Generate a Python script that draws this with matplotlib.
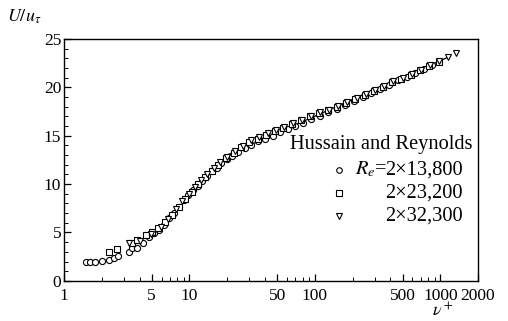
import matplotlib
matplotlib.use('Agg')
import matplotlib.pyplot as plt
from matplotlib.ticker import FixedLocator, NullFormatter

plt.rcParams['font.family'] = ['Liberation Serif', 'DejaVu Serif']
plt.rcParams['mathtext.fontset'] = 'stix'

# Re = 2 x 13,800 (circles)
circ_x = [1.5, 1.62, 1.76, 2.02, 2.28, 2.5, 2.7, 3.3, 3.5, 3.8, 4.3, 4.75, 5.2, 5.7,
          6.3, 6.9, 7.6, 8.3, 9.0, 9.8, 10.7, 11.6, 12.6, 13.7, 15.0, 16.5, 18.0, 20.0,
          22.0, 24.5, 27.5, 31, 35, 40, 46, 53, 61, 70, 81, 94, 110, 128, 150, 175,
          205, 240, 280, 330, 390, 460, 540, 630, 740, 860]
circ_y = [1.9, 1.9, 1.92, 2.05, 2.2, 2.4, 2.6, 3.0, 3.4, 3.4, 3.95, 4.55, 4.9, 5.3,
          5.8, 6.5, 7.0, 7.6, 8.4, 8.9, 9.4, 9.8, 10.3, 10.8, 11.3, 11.7, 12.2, 12.6,
          12.9, 13.3, 13.7, 14.0, 14.4, 14.7, 15.0, 15.4, 15.7, 16.0, 16.3, 16.7, 17.0,
          17.4, 17.8, 18.2, 18.6, 19.0, 19.4, 19.8, 20.2, 20.7, 21.1, 21.5, 21.9, 22.3]

# Re = 2 x 23,200 (squares)
sq_x = [2.3, 2.65, 3.5, 3.8, 4.5, 5.0, 5.6, 6.4, 7.3, 8.2, 9.3, 10.4, 11.8, 13.3, 15,
        17, 19.5, 22.5, 26, 30, 35, 41, 48, 56, 66, 78, 92, 108, 127, 150, 178, 210,
        250, 295, 350, 415, 490, 580, 690, 820, 970]
sq_y = [3.0, 3.3, 3.95, 4.2, 4.75, 5.0, 5.5, 6.1, 6.8, 7.6, 8.5, 9.2, 10.0, 10.7, 11.4,
        12.0, 12.7, 13.2, 13.8, 14.3, 14.7, 15.1, 15.5, 15.8, 16.2, 16.6, 17.0, 17.3,
        17.6, 18.0, 18.4, 18.8, 19.2, 19.6, 20.0, 20.5, 20.9, 21.3, 21.8, 22.2, 22.6]

# Re = 2 x 32,300 (triangles)
tri_x = [3.3, 4.0, 4.9, 5.9, 6.8, 7.8, 8.8, 9.9, 11.0, 12.3, 13.8, 15.6, 17.6, 20, 23,
         26.5, 31, 36, 42, 49, 57, 67, 79, 93, 110, 130, 154, 182, 215, 255, 300, 355,
         420, 500, 590, 700, 830, 980, 1150, 1340]
tri_y = [3.9, 4.1, 4.8, 5.6, 6.4, 7.4, 8.2, 9.0, 9.7, 10.4, 11.0, 11.7, 12.3, 12.8,
         13.4, 13.9, 14.5, 14.9, 15.3, 15.6, 15.9, 16.3, 16.6, 17.0, 17.4, 17.7, 18.1,
         18.5, 18.9, 19.3, 19.7, 20.1, 20.6, 21.0, 21.4, 21.8, 22.3, 22.7, 23.1, 23.5]

# log-law line end points
line_x = [20, 1200]
line_y = [13.0, 23.2]

xticks = [1, 5, 10, 50, 100, 500, 1000, 2000]
xminor = [2, 3, 4, 6, 7, 8, 9, 20, 30, 40, 60, 70, 80, 90, 200, 300, 400, 600, 700, 800, 900]
yticks = [0, 5, 10, 15, 20, 25]

fig = plt.figure(figsize=(5.08, 3.21), dpi=100)
ax = fig.add_axes([0.126, 0.125, 0.815, 0.754])

ax.plot(line_x, line_y, color='black', lw=0.9)
mk = dict(ls='none', mfc='white', mec='black', mew=0.8, color='black')
ax.plot(circ_x, circ_y, marker='o', ms=4.4, **mk)
ax.plot(sq_x, sq_y, marker='s', ms=4.2, **mk)
ax.plot(tri_x, tri_y, marker='v', ms=4.8, **mk)

ax.set_xscale('log')
ax.set_xlim(1, 2000)
ax.set_ylim(0, 25)
ax.xaxis.set_major_locator(FixedLocator(xticks))
ax.xaxis.set_minor_locator(FixedLocator(xminor))
ax.xaxis.set_minor_formatter(NullFormatter())
ax.set_xticklabels([str(t) for t in xticks])
ax.set_yticks(yticks)
ax.set_yticks(range(0, 26), minor=True)
ax.tick_params(which='both', direction='in', labelsize=12.5, top=False, right=False)
ax.tick_params(which='major', length=5, width=0.9)
ax.tick_params(which='minor', length=3, width=0.7)
ax.tick_params(axis='x', pad=5)
ax.tick_params(axis='y', pad=2)
for s in ax.spines.values():
    s.set_linewidth(1.0)

fig.text(0.014, 0.947, r'$U/u_\tau$', fontsize=13, va='center', ha='left')
fig.text(0.872, 0.03, r'$\nu^+$', fontsize=13, va='center', ha='center')

# legend drawn by hand to keep the numbers aligned
ax.text(0.546, 0.562, 'Hussain and Reynolds', transform=ax.transAxes, fontsize=14.7,
        va='center', ha='left')
leg_y = [0.459, 0.362, 0.269]
leg_m = ['o', 's', 'v']
leg_lab = ['2×13,800', '2×23,200', '2×32,300']
for yy, m, lab in zip(leg_y, leg_m, leg_lab):
    ax.plot([0.664], [yy], marker=m, ms=4, mfc='white', mec='black', mew=0.8,
            transform=ax.transAxes, clip_on=False)
    ax.text(0.964, yy, lab, transform=ax.transAxes, fontsize=14.7, va='center', ha='right')
ax.text(0.782, leg_y[0], r'$R_e$=', transform=ax.transAxes, fontsize=14.7,
        va='center', ha='right')

fig.savefig('out.png', dpi=100)
